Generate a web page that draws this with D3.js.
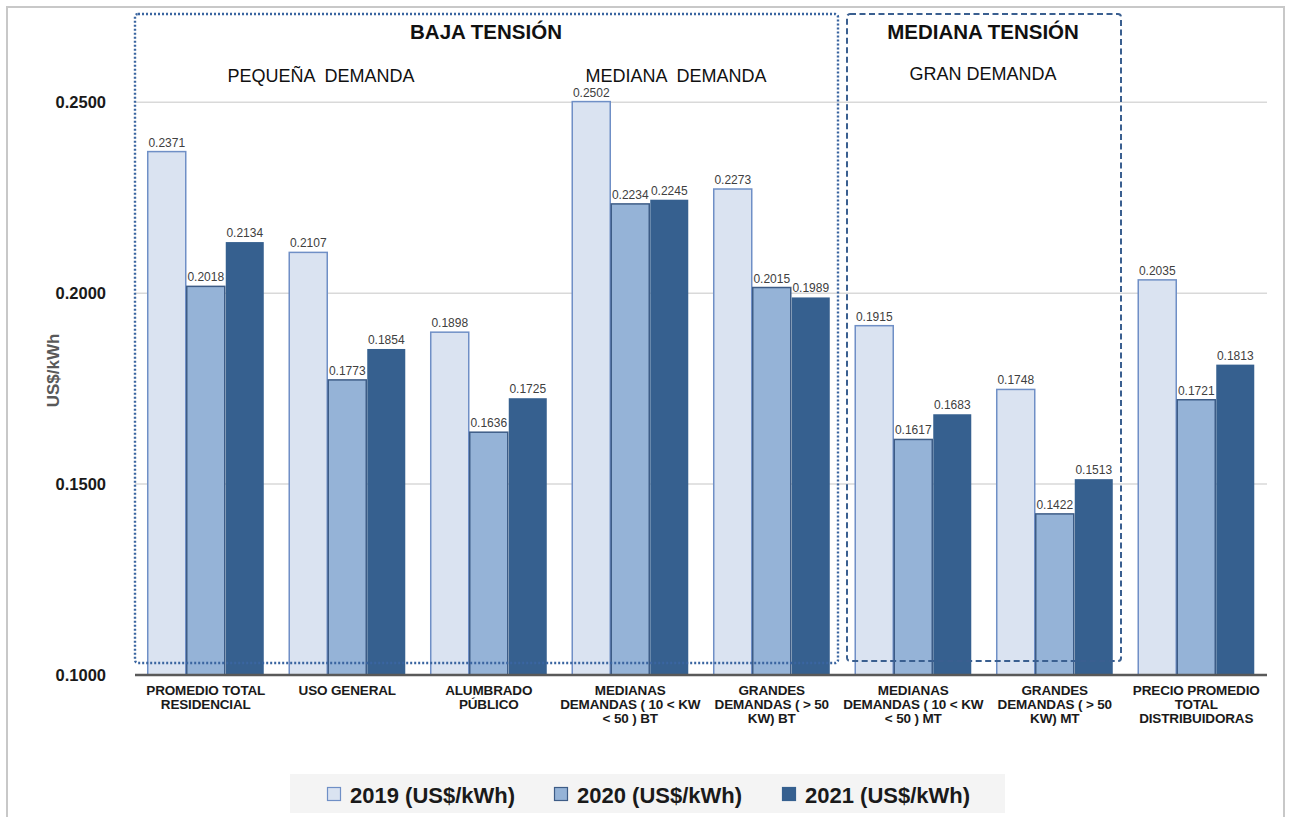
<!DOCTYPE html>
<html>
<head>
<meta charset="utf-8">
<script src="https://cdn.jsdelivr.net/npm/d3@7"></script>
<style>
  html, body { margin: 0; padding: 0; background: #fff; }
  svg { display: block; font-family: "Liberation Sans", Arial, sans-serif; }
</style>
</head>
<body>
<svg id="chart" width="1289" height="817"></svg>
<script>
const categories = [
  ["PROMEDIO TOTAL", "RESIDENCIAL"],
  ["USO GENERAL"],
  ["ALUMBRADO", "PÚBLICO"],
  ["MEDIANAS", "DEMANDAS ( 10 < KW", "< 50 ) BT"],
  ["GRANDES", "DEMANDAS  ( > 50", "KW) BT"],
  ["MEDIANAS", "DEMANDAS ( 10 < KW", "< 50 ) MT"],
  ["GRANDES", "DEMANDAS ( > 50", "KW) MT"],
  ["PRECIO PROMEDIO", "TOTAL", "DISTRIBUIDORAS"]
];
const seriesNames = ["2019 (US$/kWh)", "2020 (US$/kWh)", "2021 (US$/kWh)"];
const values2019 = [0.2371, 0.2107, 0.1898, 0.2502, 0.2273, 0.1915, 0.1748, 0.2035];
const values2020 = [0.2018, 0.1773, 0.1636, 0.2234, 0.2015, 0.1617, 0.1422, 0.1721];
const values2021 = [0.2134, 0.1854, 0.1725, 0.2245, 0.1989, 0.1683, 0.1513, 0.1813];
const yTicks = [0.10, 0.15, 0.20, 0.25];
const yLabel = "US$/kWh";

const seriesValues = [values2019, values2020, values2021];
const fills = ["#dae3f1", "#95b3d7", "#36608f"];
const strokes = ["#6f8fc6", "#3d5c86", "#36608f"];

const svg = d3.select("#chart");
const pLeft = 135, pRight = 1267, pTop = 26, pBottom = 675;

// outer border
svg.append("rect").attr("x", 7).attr("y", 7).attr("width", 1277).attr("height", 840)
  .attr("fill", "none").attr("stroke", "#c8c8c8").attr("stroke-width", 2);

const y = d3.scaleLinear().domain([0.10, 0.27]).range([pBottom, pTop]);
const x0 = d3.scaleBand().domain(d3.range(categories.length)).range([pLeft, pRight])
  .paddingInner(0.173).paddingOuter(0.0865);
const x1 = d3.scaleBand().domain(d3.range(3)).range([0, x0.bandwidth()]);

// gridlines
svg.append("g").selectAll("line").data(yTicks.filter(t => t > 0.10)).join("line")
  .attr("x1", pLeft).attr("x2", pRight)
  .attr("y1", d => y(d)).attr("y2", d => y(d))
  .attr("stroke", "#d9d9d9").attr("stroke-width", 1.5);

// y tick labels
svg.append("g").selectAll("text").data(yTicks).join("text")
  .attr("x", 106).attr("y", d => y(d)).attr("dy", "0.35em")
  .attr("text-anchor", "end").attr("font-size", 16.5).attr("font-weight", "bold")
  .attr("fill", "#1a1a1a").text(d => d3.format(".4f")(d));

// y label
svg.append("text").attr("transform", `translate(59,${(pTop + pBottom) / 2 + 20}) rotate(-90)`)
  .attr("text-anchor", "middle").attr("font-size", 17).attr("font-weight", "bold")
  .attr("fill", "#595959").text(yLabel);

// bars
const groups = svg.append("g").selectAll("g").data(categories).join("g")
  .attr("transform", (d, i) => `translate(${x0(i)},0)`);

groups.each(function(d, i) {
  const g = d3.select(this);
  seriesValues.forEach((vals, s) => {
    const v = vals[i];
    g.append("rect")
      .attr("x", x1(s) + 0.5).attr("width", x1.bandwidth() - 1)
      .attr("y", y(v)).attr("height", y(0.10) - y(v))
      .attr("fill", fills[s]).attr("stroke", strokes[s]).attr("stroke-width", s === 2 ? 0 : 1.5);
    g.append("text")
      .attr("x", x1(s) + x1.bandwidth() / 2).attr("y", y(v) - 5)
      .attr("text-anchor", "middle").attr("font-size", 12).attr("fill", "#404040")
      .text(d3.format(".4f")(v));
  });
});

// baseline
svg.append("line").attr("x1", pLeft).attr("x2", pRight).attr("y1", pBottom).attr("y2", pBottom)
  .attr("stroke", "#595959").attr("stroke-width", 2.5);

// category labels
const catG = svg.append("g").selectAll("text").data(categories).join("text")
  .attr("x", (d, i) => x0(i) + x0.bandwidth() / 2)
  .attr("text-anchor", "middle").attr("font-size", 13.5).attr("font-weight", "bold")
  .attr("fill", "#1a1a1a").attr("letter-spacing", "-0.15");
catG.selectAll("tspan").data(d => d).join("tspan")
  .attr("x", function() { return d3.select(this.parentNode).attr("x"); })
  .attr("y", (d, j) => 695 + j * 14).text(d => d);

// Baja tension box (dotted)
svg.append("rect").attr("x", 135).attr("y", 14).attr("width", 703).attr("height", 649)
  .attr("rx", 3).attr("fill", "none").attr("stroke", "#3a65a0").attr("stroke-width", 2.4)
  .attr("stroke-dasharray", "2,2");
// Mediana tension box (dashed)
svg.append("rect").attr("x", 847).attr("y", 14).attr("width", 274).attr("height", 647)
  .attr("rx", 3).attr("fill", "none").attr("stroke", "#3a5f90").attr("stroke-width", 2)
  .attr("stroke-dasharray", "6,3.5");

// titles
const titles = [
  { t: "BAJA TENSIÓN", x: 486, y: 39, b: true, s: 20.5 },
  { t: "MEDIANA TENSIÓN", x: 983, y: 39, b: true, s: 20.5 },
  { t: "PEQUEÑA  DEMANDA", x: 321, y: 82, b: false, s: 18 },
  { t: "MEDIANA  DEMANDA", x: 676, y: 82, b: false, s: 18 },
  { t: "GRAN DEMANDA", x: 983, y: 80, b: false, s: 18 }
];
svg.append("g").selectAll("text").data(titles).join("text")
  .attr("x", d => d.x).attr("y", d => d.y).attr("text-anchor", "middle")
  .attr("font-size", d => d.s).attr("font-weight", d => d.b ? "bold" : "normal")
  .attr("fill", "#111").style("white-space", "pre").text(d => d.t);

// legend
svg.append("rect").attr("x", 290).attr("y", 774).attr("width", 715).attr("height", 39).attr("fill", "#f4f4f4");
const legX = [327, 554, 782];
const leg = svg.append("g").selectAll("g").data(seriesNames).join("g")
  .attr("transform", (d, i) => `translate(${legX[i]},794)`);
leg.append("rect").attr("x", 0.5).attr("y", -6.5).attr("width", 13).attr("height", 13)
  .attr("fill", (d, i) => fills[i]).attr("stroke", (d, i) => strokes[i]).attr("stroke-width", 1.2);
leg.append("text").attr("x", 23).attr("y", 1).attr("dy", "0.36em")
  .attr("font-size", 22).attr("font-weight", "bold").attr("fill", "#1a1a1a").text(d => d);
</script>
</body>
</html>
